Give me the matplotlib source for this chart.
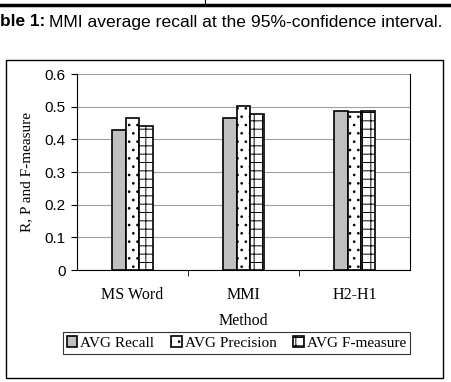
import matplotlib
matplotlib.use("Agg")
import matplotlib.pyplot as plt
import numpy as np
from matplotlib.patches import Rectangle
from matplotlib.lines import Line2D

categories = ["MS Word", "MMI", "H2-H1"]
series_names = ["AVG Recall", "AVG Precision", "AVG F-measure"]
recall = [0.428, 0.464, 0.488]
precision = [0.465, 0.502, 0.485]
fmeasure = [0.442, 0.477, 0.486]
yticks = [0, 0.1, 0.2, 0.3, 0.4, 0.5, 0.6]

W, H = 451, 382
fig = plt.figure(figsize=(W/100, H/100), dpi=100)

def fx(px): return px / W
def fy(py): return 1 - py / H

# top rule and caption
fig.add_artist(Line2D([0, 1], [fy(5), fy(5)], color="black", lw=2.5, transform=fig.transFigure))
fig.add_artist(Line2D([fx(205), fx(205)], [fy(5), fy(0)], color="black", lw=0.8, transform=fig.transFigure))
fig.text(fx(0.5), fy(22), "ble 1:", fontweight="bold", family="Liberation Sans", fontsize=12.4, va="center", ha="left")
fig.text(fx(49), fy(22), "MMI average recall at the 95%-confidence interval.", family="Liberation Sans",
         fontsize=12.6, va="center", ha="left")

# outer frame
fig.add_artist(Rectangle((fx(6), fy(378)), fx(443) - fx(6), fy(60) - fy(378), fill=False,
                         edgecolor="black", lw=1.0, transform=fig.transFigure))

ax = fig.add_axes([fx(77), fy(270), fx(410) - fx(77), fy(74) - fy(270)])
x = np.arange(len(categories))
bw = 0.126
plt.rcParams['hatch.linewidth'] = 0.7
ax.bar(x - bw, recall, bw, color="#c0c0c0", edgecolor="black", lw=1.2, label=series_names[0], zorder=3)
ax.bar(x, precision, bw, color="white", edgecolor="black", lw=1.2, hatch="..", label=series_names[1], zorder=3)
ax.bar(x + bw, fmeasure, bw, color="white", edgecolor="black", lw=1.2, hatch="++", label=series_names[2], zorder=3)

ax.set_xlim(-0.5, 2.5)
ax.set_ylim(0, 0.6)
ax.set_yticks(yticks)
ax.set_yticklabels([f"{v:g}" for v in yticks], family="Liberation Sans", fontsize=11)
ax.set_xticks([0.5, 1.5], minor=True)
ax.set_xticks(x)
ax.set_xticklabels(categories, family="Liberation Serif", fontsize=11.5)
ax.tick_params(axis="x", which="major", length=0, pad=12)
ax.tick_params(axis="x", which="minor", length=4, direction="out")
ax.tick_params(axis="y", length=4, direction="out", pad=4)
ax.grid(axis="y", color="#a0a0a0", lw=0.8, zorder=0)
ax.spines["top"].set_visible(False)
for s in ["right", "left", "bottom"]:
    ax.spines[s].set_color("black")
ax.set_xlabel("Method", family="Liberation Serif", fontsize=11.5, labelpad=7.5)
ax.set_ylabel("R, P and F-measure", family="Liberation Serif", fontsize=11, labelpad=8)

leg = fig.legend(loc="center", bbox_to_anchor=(fx(236.5), fy(343)), ncol=3, frameon=True,
                 prop={"family": "Liberation Serif", "size": 11}, handlelength=0.7, handleheight=0.7,
                 handletextpad=0.2, columnspacing=1.1, borderpad=0.25, fancybox=False,
                 edgecolor="black")
leg.get_frame().set_linewidth(0.8)

fig.savefig("out.png", dpi=100)
